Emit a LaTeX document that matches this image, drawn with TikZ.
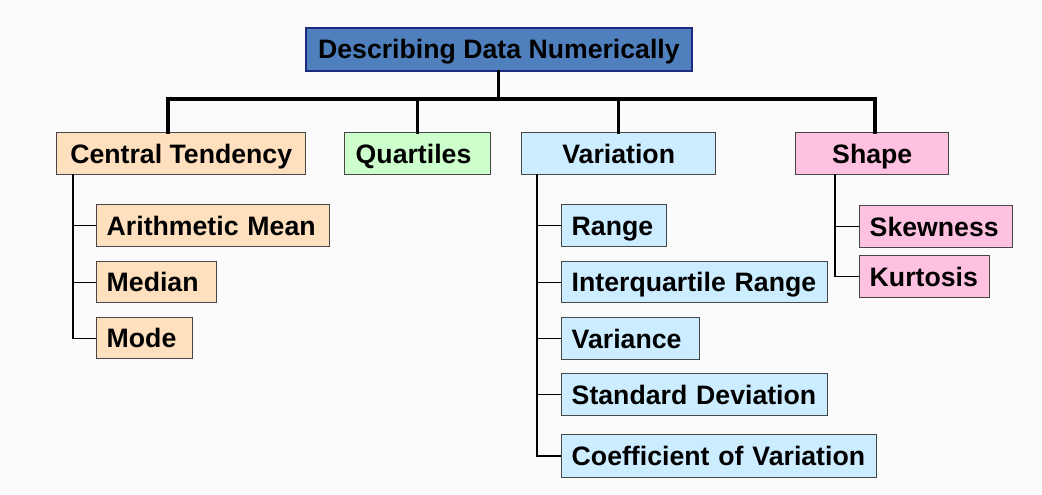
\documentclass[tikz,border=0pt]{standalone}
\usepackage{fontspec}
\setmainfont{Liberation Sans}
\begin{document}
\begin{tikzpicture}[x=0.75pt,y=-0.75pt,
  font=\fontsize{20pt}{23pt}\selectfont\bfseries,
  base/.style={draw=black!72, line width=1.1pt, inner sep=0pt, text height=14.3pt, text depth=0pt},
  l1/.style n args={3}{base, fill=#3, anchor=north west, minimum width=#1*0.75pt, minimum height=#2*0.75pt},
  sub/.style n args={3}{base, fill=#3, anchor=north west, text width=(#1-20)*0.75pt, inner xsep=10*0.75pt, minimum height=#2*0.75pt, align=left},
  bar/.style={line width=2.3pt, line cap=rect},
  twig/.style={line width=1.1pt},
]
\definecolor{bg}{HTML}{FCFBFC}
\definecolor{topc}{HTML}{4F7FBC}
\definecolor{topb}{HTML}{1C2A80}
\definecolor{ctc}{HTML}{FEE0BE}
\definecolor{qc}{HTML}{CCFFCC}
\definecolor{vc}{HTML}{CCECFF}
\definecolor{sc}{HTML}{FFC1E0}
\fill[bg] (0,0) rectangle (1042,494);
\useasboundingbox (0,0) rectangle (1042,494);

% top
\node[base, draw=topb, line width=1.4pt, fill=topc, anchor=north west, minimum width=386*0.75pt, minimum height=43*0.75pt] (top) at (305,27) {Describing Data Numerically};

% level 1
\node[l1={249}{42}{ctc}] (ct) at (56,132) {Central Tendency};
\node[l1={146}{42}{qc}, align=left, text width=(146-22)*0.75pt, inner xsep=11*0.75pt, minimum width=0pt] (q) at (344,132) {Quartiles};
\node[l1={194}{42}{vc}] (var) at (521,132) {Variation};
\node[l1={153}{42}{sc}] (shp) at (795,132) {Shape};

% central tendency children
\node[sub={233}{42}{ctc}] (am) at (96,204) {Arithmetic Mean};
\node[sub={120}{41}{ctc}] (med) at (96,261) {Median};
\node[sub={96}{41}{ctc}] (mode) at (96,317) {Mode};

% variation children
\node[sub={105}{42}{vc}] (rng) at (561,204) {Range};
\node[sub={266}{41}{vc}] (iqr) at (561,261) {Interquartile Range};
\node[sub={138}{42}{vc}] (vari) at (561,317) {Variance};
\node[sub={266}{42}{vc}] (sd) at (561,373) {Standard Deviation};
\node[sub={315}{43}{vc}] (cv) at (561,434) {Coefficient of Variation};

% shape children
\node[sub={153}{42}{sc}] (skw) at (859,205) {Skewness};
\node[sub={130}{42}{sc}] (kur) at (859,255) {Kurtosis};

% main connectors
\coordinate (busy) at (490,99);
\coordinate (ctstem) at (168,132);
\coordinate (shstem) at (875,132);
\draw[bar] (top.south) -- (top.south |- busy);
\draw[bar] (ctstem) -- (ctstem |- busy) -- (shstem |- busy) -- (shstem);
\draw[bar] (q.north) -- (q.north |- busy);
\draw[bar] (var.north) -- (var.north |- busy);

% central tendency tree
\coordinate (cttr) at (73,174);
\draw[twig] (cttr) |- (mode.west);
\draw[twig] (cttr |- am.west) -- (am.west);
\draw[twig] (cttr |- med.west) -- (med.west);

% variation tree
\coordinate (vtr) at (537,174);
\draw[twig, line width=1.5pt] (vtr) |- (cv.west);
\draw[twig] (vtr |- rng.west) -- (rng.west);
\draw[twig] (vtr |- iqr.west) -- (iqr.west);
\draw[twig] (vtr |- vari.west) -- (vari.west);
\draw[twig] (vtr |- sd.west) -- (sd.west);

% shape tree
\coordinate (str) at (835,174);
\draw[twig] (str) |- (kur.west);
\draw[twig] (str |- skw.west) -- (skw.west);
\end{tikzpicture}
\end{document}
